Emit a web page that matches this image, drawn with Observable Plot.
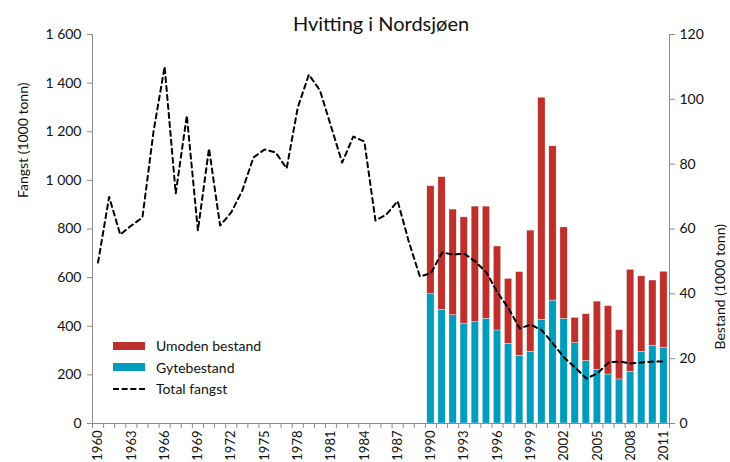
<!DOCTYPE html>
<html>
<head>
<meta charset="utf-8">
<script src="https://cdn.jsdelivr.net/npm/d3@7"></script>
<script src="https://cdn.jsdelivr.net/npm/@observablehq/plot@0.6"></script>
<style>
  body { margin: 0; background: #fff; font-family: Lato, "Open Sans", sans-serif; }
  #wrap { position: relative; width: 730px; height: 462px; }
  .leg { position: absolute; left: 113px; top: 335px; font-size: 14px; color: #111; }
  .row { display: flex; align-items: center; height: 21.5px; }
  .sw { width: 32px; height: 8px; margin-right: 11px; }
  .dash { width: 32px; height: 0; border-top: 2px dashed #000; margin-right: 11px; }
</style>
</head>
<body>
<div id="wrap"></div>
<script>
// ---- Data ----
const fangstYears = [1960,1961,1962,1963,1964,1965,1966,1967,1968,1969,1970,1971,1972,1973,1974,1975,1976,1977,1978,1979,1980,1981,1982,1983,1984,1985,1986,1987,1988,1989,1990,1991,1992,1993,1994,1995,1996,1997,1998,1999,2000,2001,2002,2003,2004,2005,2006,2007,2008,2009,2010,2011];
// Total fangst (left axis, 1000 tonn)
const totalFangst = [662,932,777,814,847,1201,1468,946,1267,794,1131,814,868,958,1094,1127,1115,1049,1300,1435,1370,1222,1073,1180,1160,835,860,915,749,605,618,703,695,699,666,621,539,473,391,407,383,329,271,230,185,206,251,255,247,251,255,255];

const bestandYears = [1990,1991,1992,1993,1994,1995,1996,1997,1998,1999,2000,2001,2002,2003,2004,2005,2006,2007,2008,2009,2010,2011];
// Bestand (right axis, 1000 tonn)
const gytebestand = [39.9,35.1,33.4,30.8,31.3,32.3,28.7,24.6,20.9,22.1,32.0,37.9,32.3,24.8,19.3,16.6,15.1,13.6,15.9,22.1,24.0,23.4];
const umodenBestand = [33.3,40.9,32.6,32.8,35.6,34.6,25.9,20.0,25.8,37.4,68.5,47.6,28.2,7.8,14.4,21.0,21.1,15.2,31.5,23.3,20.1,23.4];

const leftTicks = [0,200,400,600,800,1000,1200,1400,1600];
const rightTicks = [0,20,40,60,80,100,120];
const labelYears = [1960,1963,1966,1969,1972,1975,1978,1981,1984,1987,1990,1993,1996,1999,2002,2005,2008,2011];

const colors = { umoden: "#BE302B", gyte: "#009CBE" };

// ---- Derived tables ----
const K = leftTicks[leftTicks.length - 1] / rightTicks[rightTicks.length - 1]; // right -> left units
const lineData = fangstYears.map((year, i) => ({ year, v: totalFangst[i] }));
const barRows = bestandYears.flatMap((year, i) => [
  { year, serie: "Gytebestand", y1: 0, y2: gytebestand[i] * K },
  { year, serie: "Umoden bestand", y1: gytebestand[i] * K, y2: (gytebestand[i] + umodenBestand[i]) * K }
]);
const boundaries = fangstYears.map(y => y - 0.5).concat([fangstYears[fangstYears.length - 1] + 0.5]);
const fmt = d => d3.format(",")(d).replace(/,/g, " ");
const half = 0.33;

const axisColor = "#8c8c8c";

const chart = Plot.plot({
  width: 730,
  height: 462,
  marginLeft: 92,
  marginRight: 61,
  marginTop: 34,
  marginBottom: 39,
  style: { fontFamily: "Lato, 'Open Sans', sans-serif", background: "#fff", color: "#111" },
  x: { type: "linear", domain: [fangstYears[0] - 0.5, fangstYears[fangstYears.length - 1] + 0.5], axis: null },
  y: { domain: [0, leftTicks[leftTicks.length - 1]], axis: null },
  marks: [
    Plot.rect(barRows, {
      x1: d => d.year - half, x2: d => d.year + half, y1: "y1", y2: "y2",
      fill: d => d.serie === "Gytebestand" ? colors.gyte : colors.umoden,
      stroke: "white", strokeWidth: 0.5, strokeOpacity: 0.7
    }),
    Plot.line(lineData, { x: "year", y: "v", stroke: "#000", strokeWidth: 2, strokeDasharray: "5,4" }),
    Plot.frame({ anchor: "left", stroke: axisColor }),
    Plot.frame({ anchor: "right", stroke: axisColor }),
    Plot.frame({ anchor: "bottom", stroke: axisColor }),
    Plot.axisY({ anchor: "left", ticks: leftTicks, tickSize: 5, tickPadding: 6, tickFormat: fmt, fontSize: 14, stroke: axisColor, fill: "#111", label: null }),
    Plot.axisY({ anchor: "right", ticks: rightTicks.map(v => v * K), tickSize: 5, tickPadding: 5, tickFormat: d => String(Math.round(d / K)), fontSize: 14, stroke: axisColor, fill: "#111", label: null }),
    Plot.axisX({ ticks: boundaries, tickSize: 5, tickFormat: () => "", stroke: axisColor, label: null }),
    Plot.axisX({ ticks: labelYears, tickSize: 0, tickPadding: 7, tickRotate: -90, tickFormat: d => String(d), fontSize: 13, fill: "#111", label: null }),
    Plot.text(["Hvitting i Nordsjøen"], { text: d => d, frameAnchor: "top", lineAnchor: "bottom", dy: -4, fontSize: 20, fill: "#111" }),
    Plot.text(["Fangst (1000 tonn)"], { text: d => d, frameAnchor: "left", dx: -69, dy: -31, rotate: -90, fontSize: 14, fill: "#111" }),
    Plot.text(["Bestand (1000 tonn)"], { text: d => d, frameAnchor: "right", dx: 51, dy: -5, rotate: -90, fontSize: 14, fill: "#111" })
  ]
});

const wrap = document.getElementById("wrap");
wrap.appendChild(chart);

const leg = document.createElement("div");
leg.className = "leg";
leg.innerHTML = `
  <div class="row"><div class="sw" style="background:${colors.umoden}"></div>Umoden bestand</div>
  <div class="row"><div class="sw" style="background:${colors.gyte}"></div>Gytebestand</div>
  <div class="row"><div class="dash"></div>Total fangst</div>`;
wrap.appendChild(leg);
</script>
</body>
</html>
